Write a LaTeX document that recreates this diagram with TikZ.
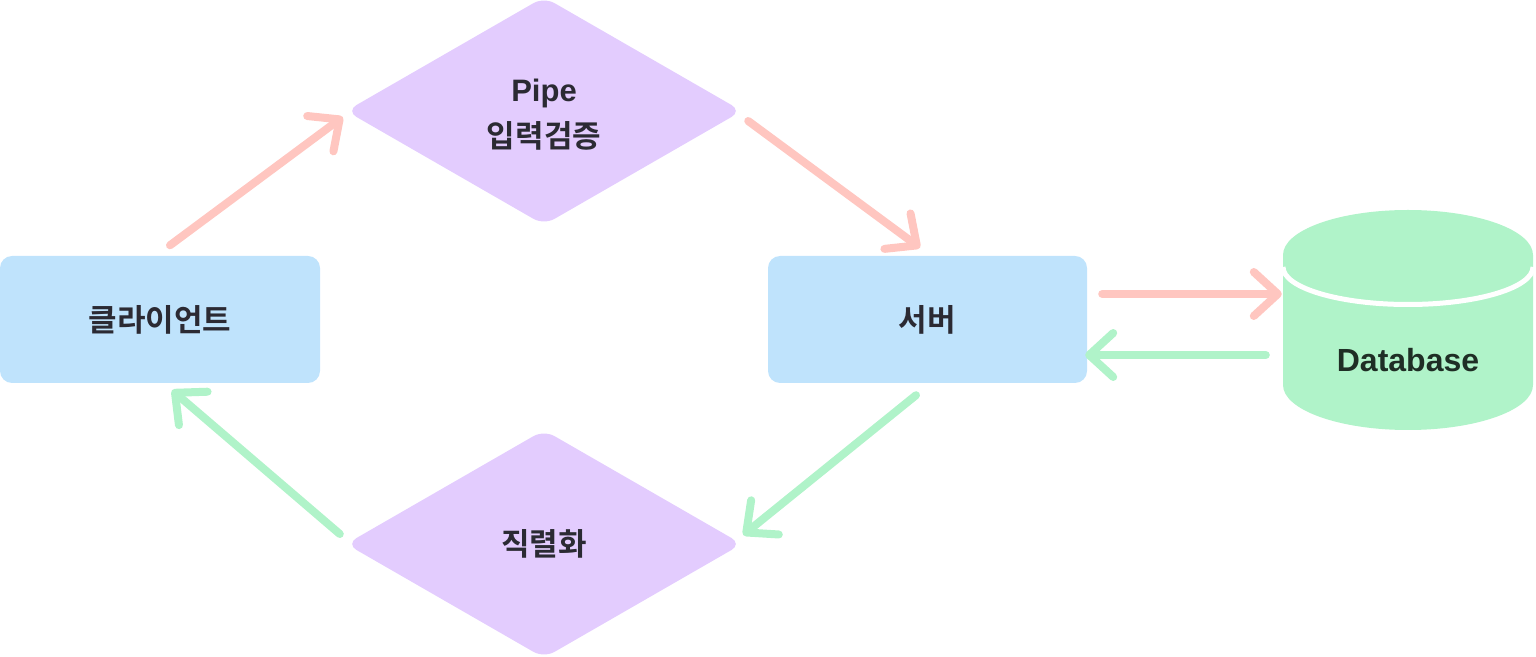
\documentclass[tikz,border=0pt]{standalone}
\usepackage{fontspec}
\setmainfont{Liberation Sans}
\newfontfamily\krfont{Noto Sans CJK KR Bold}
\newfontfamily\lafont{Liberation Sans}
\usetikzlibrary{arrows.meta,shapes.geometric}
\definecolor{boxblue}{HTML}{BFE3FC}
\definecolor{dpurple}{HTML}{E3CCFE}
\definecolor{apink}{HTML}{FFC6C0}
\definecolor{agreen}{HTML}{B0F3C9}
\definecolor{txtdark}{HTML}{2B2A33}
\definecolor{dbtxt}{HTML}{1F2E25}
\tikzset{
  boxnode/.style={rectangle, rounded corners=12pt, fill=boxblue, minimum width=320pt, minimum height=127pt, inner sep=0pt, text=txtdark, font=\krfont\fontsize{31}{36}\selectfont},
  dianode/.style={diamond, rounded corners=12pt, fill=dpurple, minimum width=396pt, minimum height=228pt, inner sep=0pt, text=txtdark, align=center},
  arrbase/.style={line width=8pt, line cap=round, -{Straight Barb[length=24pt,width=44pt,round]}},
  pinkarr/.style={arrbase, draw=apink},
  greenarr/.style={arrbase, draw=agreen}
}
\begin{document}
\begin{tikzpicture}[x=1pt,y=1pt]
\useasboundingbox (0,0) rectangle (1536,656);
% boxes
\node[boxnode] (client) at (160,336.5) {클라이언트};
\node[boxnode, minimum width=319pt] (server) at (927.5,336.5) {서버};
% diamonds
\node[dianode] (pipe) at (544,545) {{\lafont\bfseries\fontsize{31}{36}\selectfont\rule{0pt}{29.5pt}Pipe}\\[13pt]{\krfont\fontsize{31}{36}\selectfont 입력검증}};
\node[dianode] (serial) at (544,112) {\krfont\fontsize{31}{36}\selectfont 직렬화};
% cylinder
\fill[agreen] (1283,401) -- (1283,271) arc[start angle=180,end angle=360,x radius=125,y radius=45] -- (1533,401) -- cycle;
\draw[white, line width=5pt] (1283,389) arc[start angle=180,end angle=360,x radius=125,y radius=37.5];
\fill[agreen] (1408,401) ellipse[x radius=125,y radius=45];
\node[minimum width=250pt, minimum height=218pt, inner sep=0pt] (dbbox) at (1408,336) {};
\node[text=dbtxt, font=\lafont\bfseries\fontsize{32}{36}\selectfont] (db) at (1408,296) {Database};
% connectors
\draw[pinkarr] ([shift={(10,10.5)}]client.north) -- ([shift={(-3,-6)}]pipe.west);
\draw[pinkarr] ([shift={(6,-10)}]pipe.east) -- ([shift={(-7.5,8)}]server.north);
\draw[pinkarr] ([shift={(15,25.5)}]server.east) -- ([shift={(-1,26)}]dbbox.west);
\draw[greenarr] ([shift={(-17,-35)}]dbbox.west) -- ([shift={(-2,-35.5)}]server.east);
\draw[greenarr] ([shift={(-11.5,-12)}]server.south) -- ([shift={(1,9)}]serial.east);
\draw[greenarr] ([shift={(-6,10)}]serial.west) -- ([shift={(12,-7)}]client.south);
\end{tikzpicture}
\end{document}
